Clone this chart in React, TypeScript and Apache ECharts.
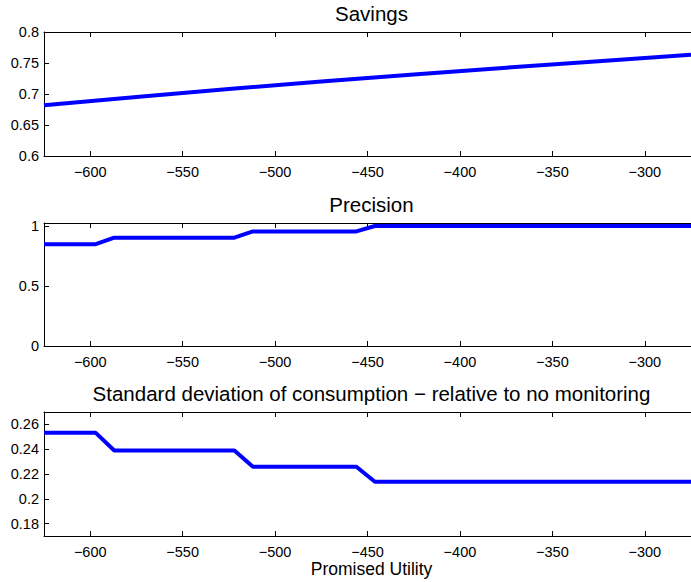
import React, { useEffect, useRef } from "react";
import * as echarts from "echarts";

// Promised-utility grid shared by the step series
const stepX = [-625, -597, -587, -522, -512, -456, -446, -275];

// Savings as a function of promised utility
const savingsX = [-625, -575, -525, -475, -425, -375, -325, -275];
const savingsY = [0.682, 0.695, 0.708, 0.72, 0.7315, 0.7425, 0.753, 0.7632];

// Monitoring precision
const precisionY = [0.848, 0.848, 0.903, 0.903, 0.955, 0.955, 1.0, 1.0];

// Standard deviation of consumption relative to no monitoring
const stdY = [0.2532, 0.2532, 0.2389, 0.2389, 0.2259, 0.2259, 0.2137, 0.2137];

const xTicks = [-600, -550, -500, -450, -400, -350, -300];
const savingsTicks = [0.6, 0.65, 0.7, 0.75, 0.8];
const precisionTicks = [0, 0.5, 1];
const stdTicks = [0.18, 0.2, 0.22, 0.24, 0.26];

const titles = [
  "Savings",
  "Precision",
  "Standard deviation of consumption \u2212 relative to no monitoring",
];
const xLabel = "Promised Utility";

const FONT = "'Liberation Sans', Arial, Helvetica, sans-serif";
const X_MIN = -625;
const X_MAX = -275;

const GRID_LEFT = 44;
const GRID_WIDTH = 655;
const grids = [
  { top: 32, height: 124 },
  { top: 223, height: 123 },
  { top: 412, height: 124 },
];

const fmtX = (v: number) => (v < 0 ? "\u2212" + Math.abs(v) : String(v));
const fmtY = (v: number) => String(+Number(v).toFixed(2));

export default function App() {
  const ref = useRef<HTMLDivElement>(null);

  useEffect(() => {
    if (!ref.current) return;
    const chart = echarts.init(ref.current, undefined, { renderer: "svg" });

    const tickStyle = { color: "#000", width: 1 };

    const xAxes: any[] = [];
    grids.forEach((_, i) => {
      xAxes.push({
        type: "value",
        gridIndex: i,
        position: "bottom",
        min: X_MIN,
        max: X_MAX,
        axisLine: { show: true, onZero: false, lineStyle: { color: "#000", width: 1 } },
        axisTick: { show: true, inside: true, length: 5, lineStyle: tickStyle, customValues: xTicks },
        axisLabel: {
          show: true,
          customValues: xTicks,
          formatter: fmtX,
          color: "#000",
          fontFamily: FONT,
          fontSize: 14.5,
          margin: 8,
        },
        splitLine: { show: false },
      });
      xAxes.push({
        type: "value",
        gridIndex: i,
        position: "top",
        min: X_MIN,
        max: X_MAX,
        axisLine: { show: true, onZero: false, lineStyle: { color: "#000", width: 1 } },
        axisTick: { show: true, inside: true, length: 5, lineStyle: tickStyle, customValues: xTicks },
        axisLabel: { show: false },
        splitLine: { show: false },
      });
    });

    const yDefs = [
      { min: 0.6, max: 0.8, ticks: savingsTicks },
      { min: 0, max: 1.025, ticks: precisionTicks },
      { min: 0.17, max: 0.27, ticks: stdTicks },
    ];
    const yAxes = yDefs.map((d, i) => ({
      type: "value",
      gridIndex: i,
      position: "left",
      min: d.min,
      max: d.max,
      axisLine: { show: true, onZero: false, lineStyle: { color: "#000", width: 1 } },
      axisTick: { show: true, inside: true, length: 5, lineStyle: tickStyle, customValues: d.ticks },
      axisLabel: {
        show: true,
        customValues: d.ticks,
        formatter: fmtY,
        color: "#000",
        fontFamily: FONT,
        fontSize: 14.5,
        margin: 5,
      },
      splitLine: { show: false },
    }));

    const lineSeries = (i: number, xs: number[], ys: number[]) => ({
      type: "line",
      xAxisIndex: i * 2,
      yAxisIndex: i,
      data: xs.map((x, k) => [x, ys[k]]),
      showSymbol: false,
      symbol: "none",
      lineStyle: { color: "#0000ff", width: 4 },
      itemStyle: { color: "#0000ff" },
    });

    const cx = GRID_LEFT + GRID_WIDTH / 2;
    const titleText = (text: string, y: number, size: number) => ({
      type: "text",
      x: cx,
      y,
      style: {
        text,
        fill: "#000",
        font: `${size}px ${FONT}`,
        align: "center",
        verticalAlign: "middle",
      },
    });

    chart.setOption({
      animation: false,
      backgroundColor: "#fff",
      grid: grids.map((g) => ({
        left: GRID_LEFT,
        width: GRID_WIDTH,
        top: g.top,
        height: g.height,
        containLabel: false,
      })),
      xAxis: xAxes,
      yAxis: yAxes,
      series: [
        lineSeries(0, savingsX, savingsY),
        lineSeries(1, stepX, precisionY),
        lineSeries(2, stepX, stdY),
      ],
      graphic: [
        titleText(titles[0], grids[0].top - 19, 20.5),
        titleText(titles[1], grids[1].top - 19, 20.5),
        titleText(titles[2], grids[2].top - 19, 20.5),
        titleText(xLabel, 569, 17.5),
      ],
    });

    return () => chart.dispose();
  }, []);

  return (
    <div
      ref={ref}
      style={{ position: "absolute", left: 0, top: 0, width: 691, height: 582, overflow: "hidden" }}
    />
  );
}
